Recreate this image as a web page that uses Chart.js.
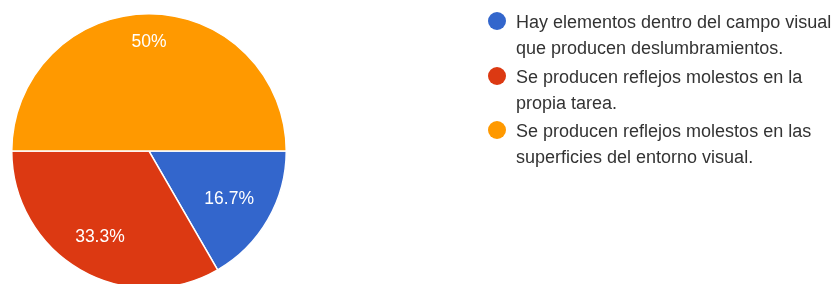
<!DOCTYPE html>
<html>
<head>
<meta charset="utf-8">
<script src="https://cdn.jsdelivr.net/npm/chart.js@4"></script>
<style>
  html, body { margin: 0; padding: 0; background: #fff; overflow: hidden; width: 837px; height: 284px; }
  #wrap { position: absolute; left: 0; top: 0; width: 837px; height: 300px; }
  #legend { position: absolute; left: 488px; top: 9px; font-family: "Liberation Sans", Arial, sans-serif; font-size: 18px; color: #333; white-space: nowrap; }
  .item { position: relative; padding-left: 28px; line-height: 26px; margin-bottom: 2.5px; }
  .dot { position: absolute; left: 0; top: 3px; width: 18px; height: 18px; border-radius: 50%; }
</style>
</head>
<body>
<div id="wrap"><canvas id="c" width="837" height="300"></canvas></div>
<div id="legend"></div>
<script>
const categories = [
  "Hay elementos dentro del campo visual que producen deslumbramientos.",
  "Se producen reflejos molestos en la propia tarea.",
  "Se producen reflejos molestos en las superficies del entorno visual."
];
const legendLines = [
  ["Hay elementos dentro del campo visual", "que producen deslumbramientos."],
  ["Se producen reflejos molestos en la", "propia tarea."],
  ["Se producen reflejos molestos en las", "superficies del entorno visual."]
];
const counts = [1, 2, 3];
const colors = ["#3366CC", "#DC3912", "#FF9900"];

const total = counts.reduce((a, b) => a + b, 0);
function pctText(v) {
  const p = Math.round(v / total * 1000) / 10;
  return (Number.isInteger(p) ? p.toFixed(0) : p.toFixed(1)) + "%";
}

// Labels placed along each slice's middle angle so that the outer corner
// of the text box sits on a fixed fraction of the radius.
const sliceLabels = {
  id: "sliceLabels",
  afterDatasetsDraw(chart) {
    const ctx = chart.ctx;
    const meta = chart.getDatasetMeta(0);
    const fs = 17.5;
    ctx.save();
    ctx.fillStyle = "#ffffff";
    ctx.font = fs + "px 'Liberation Sans', Arial, sans-serif";
    ctx.textAlign = "center";
    ctx.textBaseline = "alphabetic";
    const h = fs * 0.716;
    meta.data.forEach((arc, i) => {
      const p = arc.getProps(["startAngle", "endAngle", "outerRadius", "x", "y"], true);
      const mid = (p.startAngle + p.endAngle) / 2;
      const txt = pctText(counts[i]);
      const w = ctx.measureText(txt).width;
      const c = Math.cos(mid), s = Math.sin(mid);
      const a = Math.sign(c) * w / 2, b = Math.sign(s) * h / 2;
      const K = p.outerRadius * 0.855;
      const q = c * a + s * b;
      const d = -q + Math.sqrt(q * q - (a * a + b * b) + K * K);
      const cx = p.x + c * d, cy = p.y + s * d;
      ctx.fillText(txt, cx, cy + h / 2);
    });
    ctx.restore();
  }
};

new Chart(document.getElementById("c"), {
  type: "pie",
  data: {
    labels: categories,
    datasets: [{
      data: counts,
      backgroundColor: colors,
      borderColor: "#ffffff",
      borderWidth: 1.5
    }]
  },
  options: {
    responsive: false,
    animation: false,
    rotation: 90,
    layout: { padding: { left: 11, top: 13, right: 550, bottom: 11 } },
    plugins: { legend: { display: false }, tooltip: { enabled: false } }
  },
  plugins: [sliceLabels]
});

const lg = document.getElementById("legend");
legendLines.forEach((lines, i) => {
  const d = document.createElement("div");
  d.className = "item";
  const dot = document.createElement("span");
  dot.className = "dot";
  dot.style.background = colors[i];
  d.appendChild(dot);
  lines.forEach((t, j) => {
    if (j) d.appendChild(document.createElement("br"));
    d.appendChild(document.createTextNode(t));
  });
  lg.appendChild(d);
});
</script>
</body>
</html>
